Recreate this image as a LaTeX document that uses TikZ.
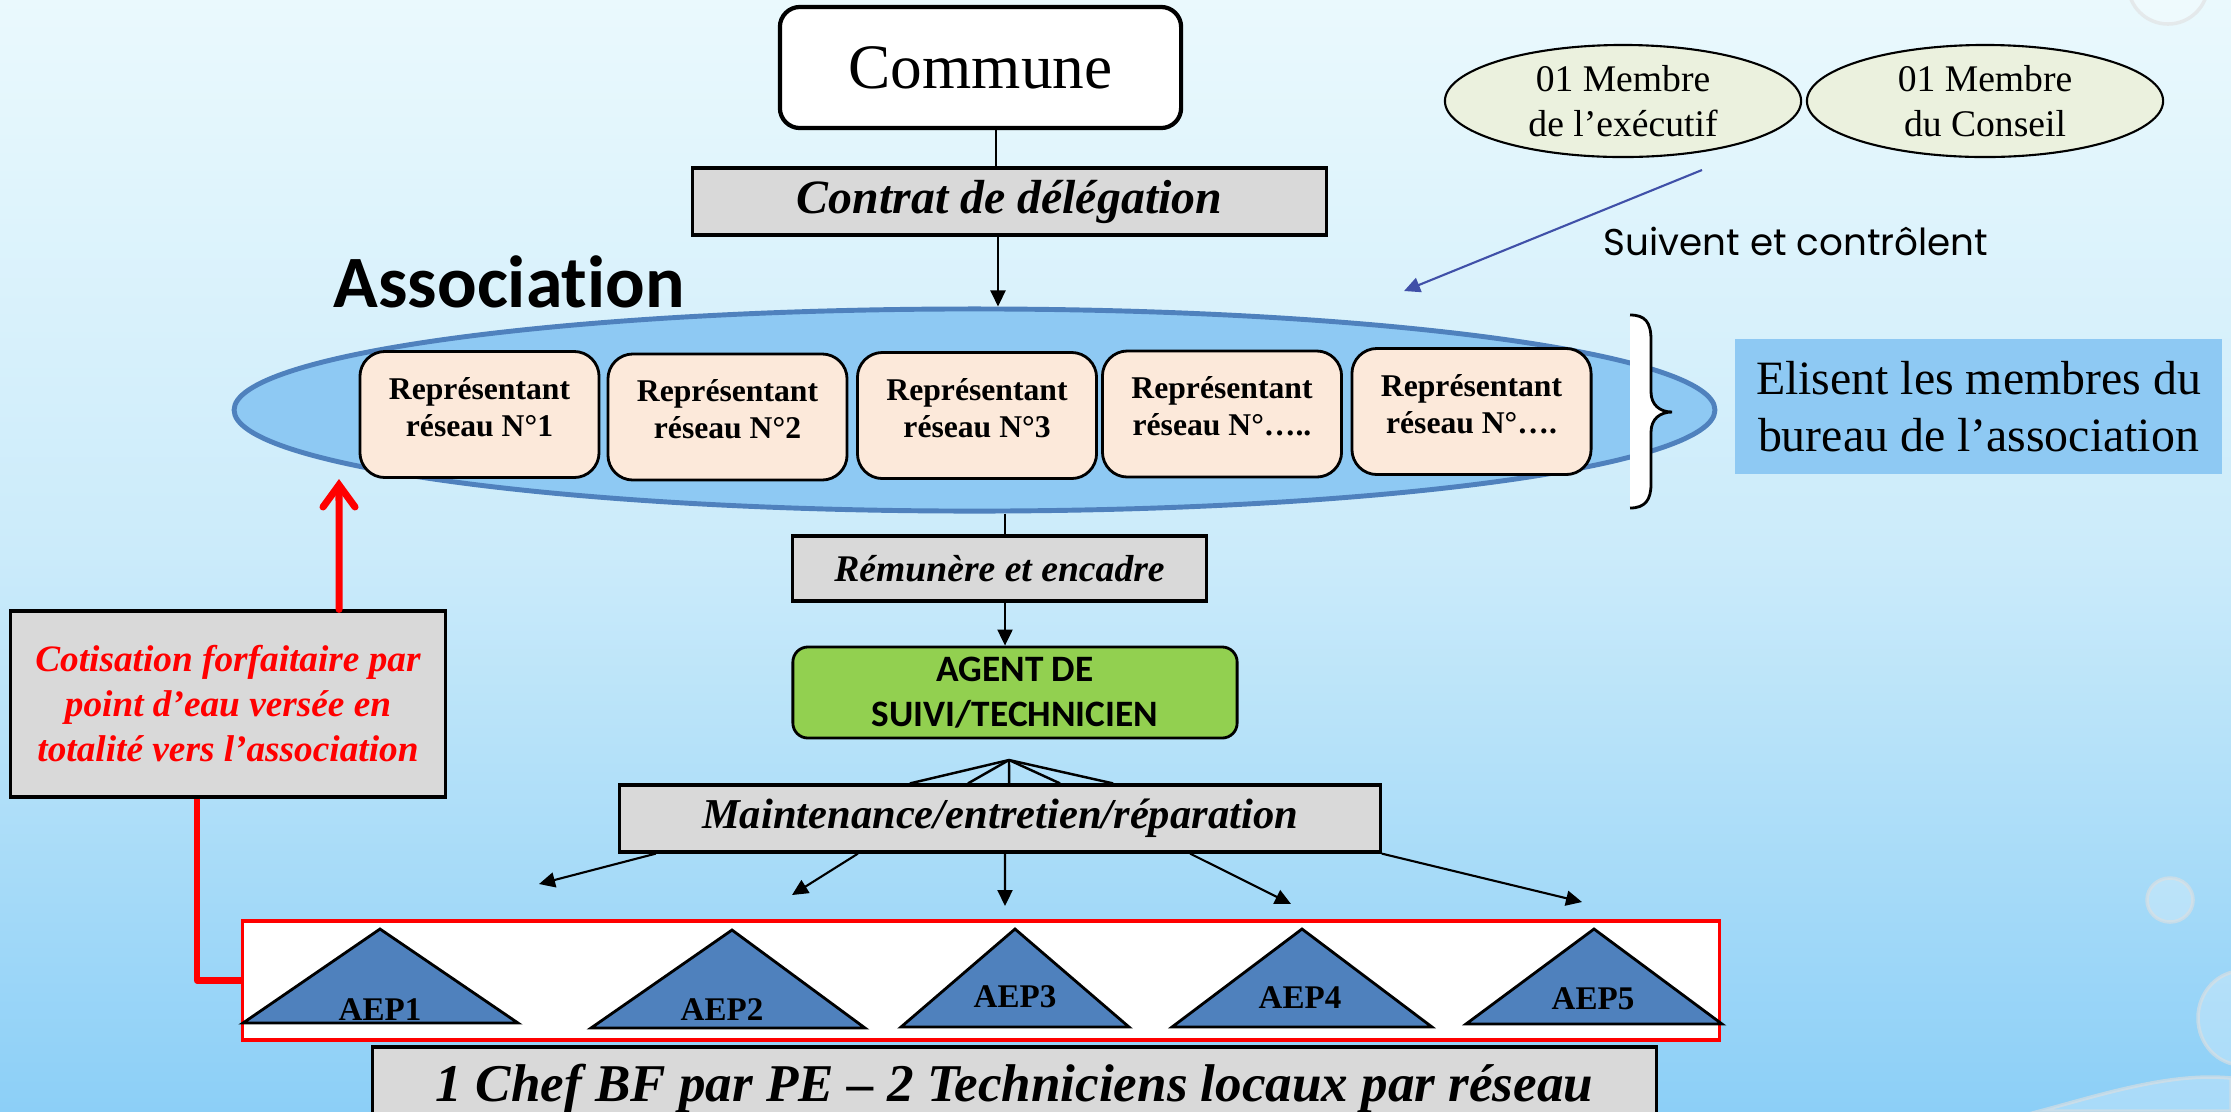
\documentclass[tikz,border=0pt]{standalone}
\usepackage{fontspec}
\setmainfont{Liberation Serif}
\newfontfamily\carlito[Ligatures=NoCommon]{Carlito}
\newfontfamily\popp[Ligatures=NoCommon]{Poppins}
\usetikzlibrary{arrows.meta,shapes.geometric}
\definecolor{bgtop}{RGB}{234,249,253}
\definecolor{bgmid}{RGB}{203,235,250}
\definecolor{bgbot}{RGB}{140,207,247}
\definecolor{ellfill}{RGB}{142,201,243}
\definecolor{ellborder}{RGB}{79,129,189}
\definecolor{peach}{RGB}{252,233,218}
\definecolor{boxgray}{RGB}{217,217,217}
\definecolor{agentgreen}{RGB}{146,208,80}
\definecolor{paleolive}{RGB}{235,241,222}
\definecolor{trifill}{RGB}{79,129,189}
\definecolor{arrowblue}{RGB}{64,80,168}
\definecolor{pureRed}{RGB}{255,0,0}
\tikzset{
  graybox/.style={draw=black, line width=0.9pt, fill=boxgray, inner sep=0pt, align=center},
  repbox/.style={draw=black, line width=0.8pt, fill=peach, rounded corners=0.25cm,
     minimum width=2.39cm, minimum height=1.26cm, inner sep=0pt, align=center,
     font=\fontsize{9}{10.5}\selectfont\bfseries},
  membre/.style={ellipse, draw=black, line width=0.6pt, fill=paleolive,
     minimum width=3.56cm, minimum height=1.12cm, inner sep=0pt, align=center,
     font=\fontsize{10.7}{12.8}\selectfont},
  blackarrow/.style={-{Triangle[length=0.16cm,width=0.15cm]}, line width=0.6pt},
  plainline/.style={line width=0.7pt},
  redline/.style={draw=pureRed, line width=1.8pt},
  tri/.style={draw=black, line width=0.8pt, fill=trifill},
  aeplabel/.style={inner sep=0pt, font=\fontsize{9.4}{11}\selectfont\bfseries},
  drop/.style={fill=white, fill opacity=0.25, draw=white!75!gray, draw opacity=0.6, line width=1pt}
}
\begin{document}
\begin{tikzpicture}[x=0.01cm,y=-0.01cm]
\useasboundingbox (0,0) rectangle (2231,1111);
\shade[top color=bgtop, bottom color=bgbot, middle color=bgmid] (0,0) rectangle (2231,1111);

% decorative droplets
\draw[drop] (2168,-16) circle (0.40cm);
\draw[drop] (2170,900) ellipse (0.23cm and 0.22cm);
\draw[drop] (2242,1018) ellipse (0.44cm and 0.47cm);
\draw[drop] (2040,1111) .. controls (2100,1095) and (2170,1072) .. (2231,1078) -- (2231,1111) -- cycle;

% Commune and contract
\node[draw=black, line width=1.2pt, fill=white, rounded corners=0.2cm,
      minimum width=4.01cm, minimum height=1.21cm, inner sep=0pt,
      font=\fontsize{18}{21}\selectfont] (commune) at (980.5,67.5) {Commune};
\node[graybox, minimum width=6.33cm, minimum height=0.67cm,
      font=\fontsize{13.6}{16}\selectfont\bfseries\itshape] (contrat) at (1009.5,201.5) {Contrat de délégation};

% Association ellipse
\node[ellipse, draw=ellborder, line width=1.4pt, fill=ellfill,
      minimum width=14.80cm, minimum height=2.02cm, inner sep=0pt] (assoc) at (974.5,410) {};
\node[anchor=base west, inner sep=0pt, font=\carlito\bfseries\fontsize{21}{25}\selectfont] (asslabel) at (333,307) {Association};

\node[repbox] (r1) at (479.5,414.5) {Représentant\\réseau N°1\\[-6pt]};
\node[repbox] (r2) at (727.5,417) {Représentant\\réseau N°2\\[-6pt]};
\node[repbox] (r3) at (977,415.5) {Représentant\\réseau N°3\\[-6pt]};
\node[repbox] (r4) at (1222,414) {Représentant\\réseau N°…..\\[-6pt]};
\node[repbox] (r5) at (1471.5,411.5) {Représentant\\réseau N°….\\[-6pt]};

% brace
\fill[white] (1630,315) .. controls (1645,315) and (1651,322) .. (1651,340) -- (1651,392)
   .. controls (1651,405) and (1660,412) .. (1672,412)
   .. controls (1660,412) and (1651,419) .. (1651,432) -- (1651,484)
   .. controls (1651,500) and (1645,508) .. (1630,508) -- cycle;
\draw[line width=0.8pt] (1630,315) .. controls (1645,315) and (1651,322) .. (1651,340) -- (1651,392)
   .. controls (1651,405) and (1660,412) .. (1672,412)
   .. controls (1660,412) and (1651,419) .. (1651,432) -- (1651,484)
   .. controls (1651,500) and (1645,508) .. (1630,508);

\node[fill=ellfill, minimum width=4.87cm, minimum height=1.35cm, inner sep=0pt, align=center,
      font=\fontsize{13.6}{16.2}\selectfont] (elisent) at (1978.5,406.5) {Elisent les membres du\\bureau de l’association};

% members
\node[membre] (m1) at (1623,101) {01 Membre\\de l’exécutif};
\node[membre] (m2) at (1985,101) {01 Membre\\du Conseil};
\coordinate (bstart) at (1702,170);
\coordinate (bend) at (1404,291);
\draw[draw=arrowblue, line width=0.6pt, -{Triangle[length=0.16cm,width=0.15cm]}] (bstart) -- (bend);
\node[anchor=base west, inner sep=0pt, font=\popp\fontsize{10.6}{13}\selectfont] (suiv) at (1603,255) {Suivent et contrôlent};

% connectors top
\coordinate (xa) at (996,0);
\coordinate (xb) at (998,0);
\draw[plainline] (xa |- commune.south) -- (xa |- contrat.north);
\draw[blackarrow] (xb |- contrat.south) -- (xb |- assoc.north);

% remunere and agent
\node[graybox, minimum width=4.13cm, minimum height=0.65cm,
      font=\fontsize{10.7}{13}\selectfont\bfseries\itshape] (remu) at (999.5,568.5) {Rémunère et encadre};
\node[draw=black, line width=0.8pt, fill=agentgreen, rounded corners=0.15cm,
      minimum width=4.44cm, minimum height=0.91cm, inner sep=0pt, align=center,
      font=\carlito\bfseries\fontsize{10.6}{12.9}\selectfont] (agent) at (1015,692.5) {AGENT DE\\SUIVI/TECHNICIEN};
\coordinate (xc) at (1005,0);
\draw[plainline] (xc |- assoc.south) -- (xc |- remu.north);
\draw[blackarrow] (xc |- remu.south) -- (xc |- agent.north);

% maintenance
\node[graybox, minimum width=7.60cm, minimum height=0.67cm,
      font=\fontsize{12.1}{14}\selectfont\bfseries\itshape] (maint) at (1000,818.5) {Maintenance/entretien/réparation};
\coordinate (apex) at (1009,760);
\draw[plainline] (apex) -- ([xshift=-0.90cm]maint.north);
\draw[plainline] (apex) -- ([xshift=-0.32cm]maint.north);
\draw[plainline] (apex) -- ([xshift=0.09cm]maint.north);
\draw[plainline] (apex) -- ([xshift=0.60cm]maint.north);
\draw[plainline] (apex) -- ([xshift=1.13cm]maint.north);

\coordinate (e1) at (539,884);
\coordinate (e2) at (792,895);
\coordinate (e3) at (1005,906);
\coordinate (e4) at (1291,904);
\coordinate (e5) at (1582,902);
\draw[blackarrow] ([xshift=-3.44cm]maint.south) -- (e1);
\draw[blackarrow] ([xshift=-1.42cm]maint.south) -- (e2);
\draw[blackarrow] ([xshift=0.05cm]maint.south) -- (e3);
\draw[blackarrow] ([xshift=1.90cm]maint.south) -- (e4);
\draw[blackarrow] (maint.south east) -- (e5);

% AEP strip
\node[draw=pureRed, line width=1pt, fill=white, minimum width=14.76cm, minimum height=1.19cm, inner sep=0pt] (strip) at (981,980.5) {};
\draw[tri] (380,929) -- (518,1023) -- (243,1023) -- cycle;
\draw[tri] (732,930) -- (865,1028) -- (591,1028) -- cycle;
\draw[tri] (1015,929) -- (1129,1027) -- (901,1027) -- cycle;
\draw[tri] (1302,929) -- (1432,1027) -- (1172,1027) -- cycle;
\draw[tri] (1594,929) -- (1722,1024) -- (1466,1024) -- cycle;
\node[aeplabel] (aep1) at (380,1010) {AEP1};
\node[aeplabel] (aep2) at (722,1010) {AEP2};
\node[aeplabel] (aep3) at (1015,997) {AEP3};
\node[aeplabel] (aep4) at (1300,998) {AEP4};
\node[aeplabel] (aep5) at (1593,999) {AEP5};

\node[graybox, minimum width=12.83cm, minimum height=0.83cm,
      font=\fontsize{15.1}{18}\selectfont\bfseries\itshape] (chef) at (1014.5,1088.5) {1 Chef BF par PE – 2 Techniciens locaux par réseau};

% cotisation
\node[graybox, minimum width=4.34cm, minimum height=1.86cm, text=pureRed,
      font=\fontsize{10.6}{12.8}\selectfont\bfseries\itshape] (cotis) at (228,704) {Cotisation forfaitaire par\\point d’eau versée en\\totalité vers l’association};
\coordinate (rtip) at (339,479);
\draw[redline, line width=2pt, line cap=round, -{Straight Barb[length=0.22cm,width=0.32cm,line cap=round]}] ([xshift=1.11cm]cotis.north) -- (rtip);
\draw[redline, line join=round] ([xshift=-0.31cm]cotis.south) |- (strip.west);
\end{tikzpicture}
\end{document}
